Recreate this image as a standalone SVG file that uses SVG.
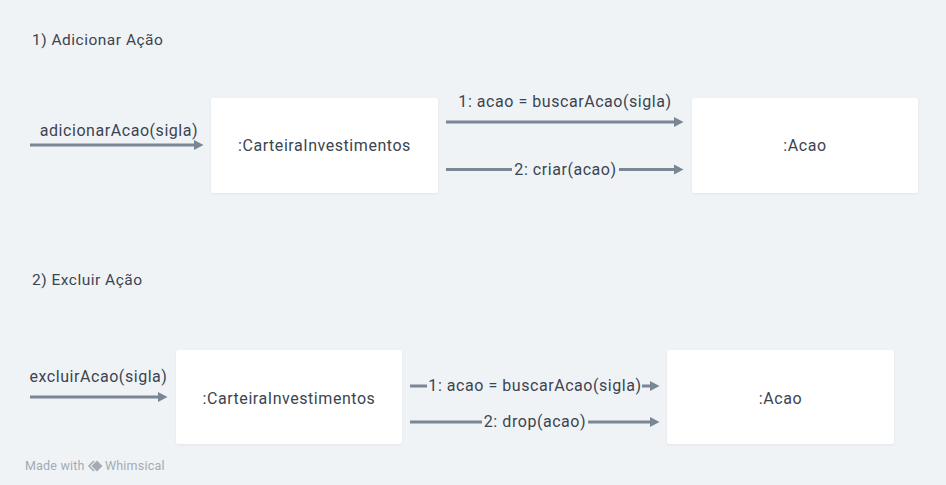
<svg xmlns="http://www.w3.org/2000/svg" width="946" height="485" viewBox="0 0 946 485">
<defs>
<marker id="ah" markerUnits="userSpaceOnUse" markerWidth="11" markerHeight="12" refX="2" refY="6" orient="auto">
<path d="M0,1 L9.5,6 L0,11 z" fill="#7a8693"/>
</marker>
<filter id="sh" x="-5%" y="-5%" width="110%" height="115%">
<feDropShadow dx="0" dy="1" stdDeviation="1" flood-color="#000" flood-opacity="0.06"/>
</filter>
</defs>
<style>
.bg{fill:#f0f3f6}
.box{fill:#ffffff;filter:url(#sh)}
.t{font-family:Roboto,"Liberation Sans",sans-serif;font-size:16px;letter-spacing:0.55px;fill:#3b4450}
.title{font-family:Roboto,"Liberation Sans",sans-serif;font-size:15.5px;letter-spacing:0.5px;fill:#3b4450}
.nl{text-anchor:middle}
.ln{stroke:#7a8693;stroke-width:3;fill:none}
.gap{fill:#f0f3f6}
.foot{font-family:Roboto,"Liberation Sans",sans-serif;font-size:12.5px;letter-spacing:0.2px;fill:#a2aab4}
</style>
<rect class="bg" x="0" y="0" width="946" height="485"/>

<text class="title" x="32" y="45">1) Adicionar Ação</text>
<text class="title" x="32" y="285">2) Excluir Ação</text>

<g id="node-carteira-1">
<rect class="box" x="211" y="98" width="227" height="95" rx="3"/>
<text class="t nl" x="324.5" y="151">:CarteiraInvestimentos</text>
</g>
<g id="node-acao-1">
<rect class="box" x="692" y="98" width="226" height="95" rx="3"/>
<text class="t nl" x="805" y="151">:Acao</text>
</g>
<g id="node-carteira-2">
<rect class="box" x="176" y="350" width="226" height="94" rx="3"/>
<text class="t nl" x="289" y="404">:CarteiraInvestimentos</text>
</g>
<g id="node-acao-2">
<rect class="box" x="667" y="350" width="227" height="94" rx="3"/>
<text class="t nl" x="780.5" y="404">:Acao</text>
</g>

<g id="connectors">
<line class="ln" x1="30" y1="145" x2="196" y2="145" marker-end="url(#ah)"/>
<text class="t nl" x="119" y="136">adicionarAcao(sigla)</text>

<line class="ln" x1="446" y1="122" x2="676" y2="122" marker-end="url(#ah)"/>
<text class="t nl" x="565" y="107">1: acao = buscarAcao(sigla)</text>

<line class="ln" x1="446" y1="169.5" x2="676" y2="169.5" marker-end="url(#ah)"/>
<rect class="gap" x="512" y="160" width="107" height="20"/>
<text class="t nl" x="565.5" y="175">2: criar(acao)</text>

<line class="ln" x1="30" y1="397" x2="160" y2="397" marker-end="url(#ah)"/>
<text class="t nl" x="98.5" y="382">excluirAcao(sigla)</text>

<line class="ln" x1="410" y1="386" x2="652" y2="386" marker-end="url(#ah)"/>
<rect class="gap" x="427" y="376" width="215" height="20"/>
<text class="t nl" x="535" y="391">1: acao = buscarAcao(sigla)</text>

<line class="ln" x1="410" y1="422" x2="652" y2="422" marker-end="url(#ah)"/>
<rect class="gap" x="482" y="412" width="106" height="20"/>
<text class="t nl" x="535" y="427">2: drop(acao)</text>
</g>

<g id="footer">
<text class="foot" x="25" y="470">Made with</text>
<path d="M94,461 L89,466 L94,471" fill="none" stroke="#a2aab4" stroke-width="1.6"/>
<path d="M97,460.5 L102.5,466 L97,471.5 L91.5,466 z" fill="#a2aab4"/>
<text class="foot" x="105" y="470">Whimsical</text>
</g>
</svg>
